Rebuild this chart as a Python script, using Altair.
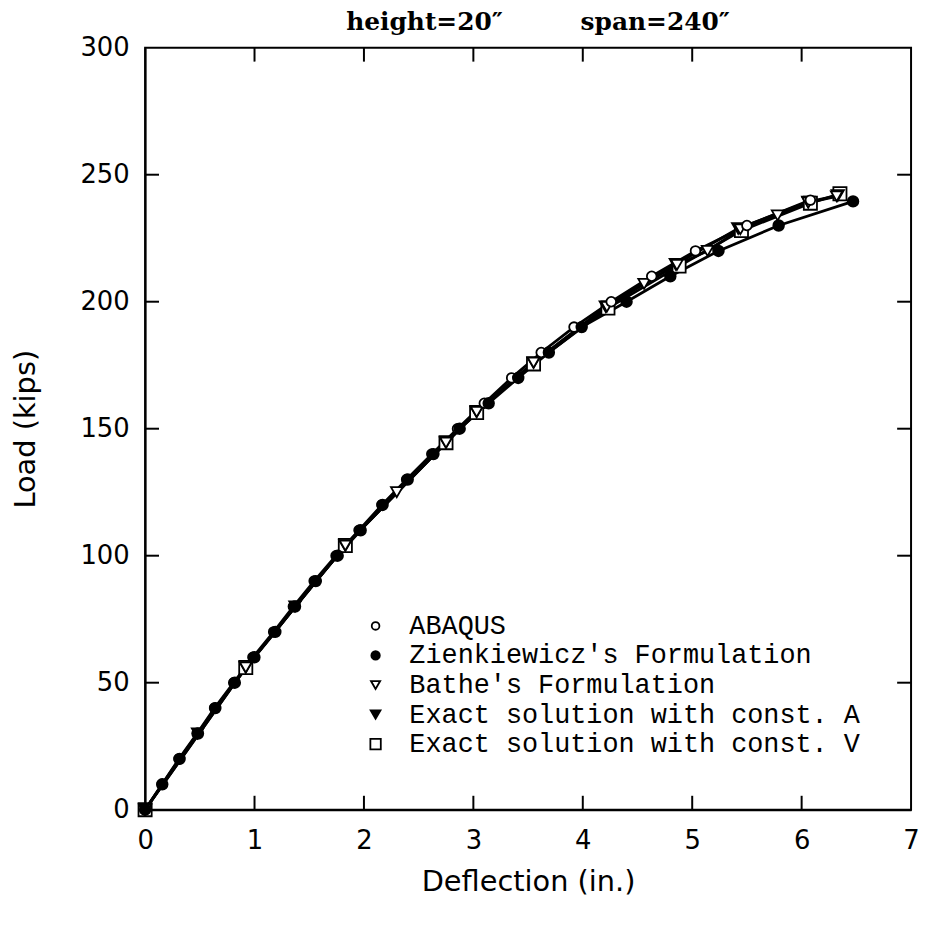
import altair as alt
import pandas as pd

# ---- data ----
series_names = ["ABAQUS", "Zienkiewicz's Formulation", "Bathe's Formulation",
                "Exact solution with const. A", "Exact solution with const. V"]
series_shapes = ["circle", "circle", "triangle-down", "triangle-down", "square"]
series_fills = ["white", "black", "white", "black", "white"]

abaqus_x = [0, 0.155, 0.31, 0.475, 0.635, 0.81, 0.985, 1.175, 1.355, 1.545, 1.745, 1.955,
            2.165, 2.39, 2.62, 2.855, 3.10, 3.35, 3.62, 3.92, 4.26, 4.63, 5.03, 5.50, 6.08]
abaqus_y = [0, 10, 20, 30, 40, 50, 60, 70, 80, 90, 100, 110, 120, 130, 140, 150, 160, 170,
            180, 190, 200, 210, 220, 230, 240]

zien_x = [0, 0.157, 0.315, 0.483, 0.642, 0.82, 0.999, 1.19, 1.37, 1.56, 1.76, 1.97, 2.17,
          2.40, 2.635, 2.875, 3.14, 3.41, 3.69, 3.99, 4.40, 4.80, 5.24, 5.79, 6.47]
zien_y = [0, 10, 20, 30, 40, 50, 60, 70, 80, 90, 100, 110, 120, 130, 140, 150, 160, 170,
          180, 190, 200, 210, 220, 230, 239.5]

bathe_x = [0, 0.48, 0.92, 1.37, 1.83, 2.30, 2.75, 3.03, 3.55, 4.22, 4.56, 4.86, 5.14, 5.44,
           5.78, 6.06, 6.32]
bathe_y = [0, 30, 56, 80, 104, 125, 144.5, 156.6, 176, 198, 207, 214.5, 220, 228.5, 234,
           239, 241.5]

exactA_x = [0, 0.92, 1.83, 2.75, 3.03, 3.55, 4.21, 4.85, 5.42, 6.06, 6.33]
exactA_y = [0, 56, 104, 144.5, 156.6, 176, 198, 214.7, 228.8, 239.3, 241.8]

exactV_x = [0, 0.92, 1.83, 2.75, 3.03, 3.55, 4.23, 4.88, 5.45, 6.08, 6.35]
exactV_y = [0, 56, 104, 144.5, 156.4, 175.5, 197.5, 214, 228, 238.8, 242.5]

x_ticks = [0, 1, 2, 3, 4, 5, 6, 7]
y_ticks = [0, 50, 100, 150, 200, 250, 300]
x_inner_ticks = [1, 2, 3, 4, 5, 6]
y_inner_ticks = [50, 100, 150, 200, 250]

# ---- build table (drawing order: exact, Bathe, ABAQUS, Zienkiewicz on top) ----
rows = []
for name, xs, ys in [
    (series_names[4], exactV_x, exactV_y),
    (series_names[3], exactA_x, exactA_y),
    (series_names[2], bathe_x, bathe_y),
    (series_names[0], abaqus_x, abaqus_y),
    (series_names[1], zien_x, zien_y),
]:
    for i, (a, b) in enumerate(zip(xs, ys)):
        rows.append({"series": name, "defl": a, "load": b, "order": i})
df = pd.DataFrame(rows)
legend_df = pd.DataFrame({"series": series_names, "idx": list(range(len(series_names)))})

W, H = 771, 767
xscale = alt.Scale(domain=[0, 7], nice=False, zero=False)
yscale = alt.Scale(domain=[0, 300], nice=False, zero=False)
shape_scale = alt.Scale(domain=series_names, range=series_shapes)
fill_scale = alt.Scale(domain=series_names, range=series_fills)

lines = alt.Chart(df).mark_line(color="black", strokeWidth=2.8).encode(
    x=alt.X("defl:Q", scale=xscale,
            axis=alt.Axis(title="Deflection (in.)", values=x_ticks, format="d",
                          tickSize=0, labelPadding=18, titlePadding=14, labelFlush=False,
                          labelFontSize=26, titleFontSize=29, labelFont="DejaVu Sans",
                          titleFont="DejaVu Sans", titleFontWeight="normal",
                          domainColor="black", domainWidth=2, grid=False,
                          labelColor="black", titleColor="black")),
    y=alt.Y("load:Q", scale=yscale,
            axis=alt.Axis(title="Load (kips)", values=y_ticks, format="d",
                          tickSize=0, labelPadding=16, titlePadding=40, labelFlush=False,
                          labelFontSize=26, titleFontSize=29, labelFont="DejaVu Sans",
                          titleFont="DejaVu Sans", titleFontWeight="normal",
                          domainColor="black", domainWidth=2, grid=False,
                          labelColor="black", titleColor="black")),
    detail="series:N",
    order="order:Q",
)

points = alt.Chart(df).mark_point(filled=True, stroke="black", strokeWidth=1.8,
                                  opacity=1).encode(
    x=alt.X("defl:Q", scale=xscale),
    y=alt.Y("load:Q", scale=yscale, axis=None),
    shape=alt.Shape("series:N", scale=shape_scale, legend=None),
    fill=alt.Fill("series:N", scale=fill_scale, legend=None),
    size=alt.Size("series:N",
                  scale=alt.Scale(domain=series_names, range=[95, 175, 35, 35, 24]),
                  legend=None),
    order="order:Q",
)

# legend drawn inside the plot (symbols + labels)
leg_y = alt.Y("idx:Q", scale=alt.Scale(domain=[0, 4], range=[582, 701]), axis=None)
legend_symbols = alt.Chart(legend_df).mark_point(filled=True, stroke="black",
                                                 strokeWidth=1.8, opacity=1).encode(
    x=alt.value(232),
    y=leg_y,
    shape=alt.Shape("series:N", scale=shape_scale, legend=None),
    fill=alt.Fill("series:N", scale=fill_scale, legend=None),
    size=alt.Size("series:N",
                  scale=alt.Scale(domain=series_names, range=[60, 110, 30, 30, 22]),
                  legend=None),
)
legend_text = alt.Chart(legend_df).mark_text(
    align="left", baseline="middle", font="Liberation Mono", fontSize=27,
    color="black").encode(
    x=alt.value(266),
    y=leg_y,
    text="series:N",
)

# inward tick marks on all four sides
xt = pd.DataFrame({"v": x_inner_ticks})
yt = pd.DataFrame({"v": y_inner_ticks})
tick_len = 14
bottom_ticks = alt.Chart(xt).mark_rule(color="black", strokeWidth=2).encode(
    x=alt.X("v:Q", scale=xscale), y=alt.value(H), y2=alt.value(H - tick_len))
top_ticks = alt.Chart(xt).mark_rule(color="black", strokeWidth=2).encode(
    x=alt.X("v:Q", scale=xscale), y=alt.value(0), y2=alt.value(tick_len))
left_ticks = alt.Chart(yt).mark_rule(color="black", strokeWidth=2).encode(
    y=alt.Y("v:Q", scale=yscale, axis=None), x=alt.value(0), x2=alt.value(tick_len))
right_ticks = alt.Chart(yt).mark_rule(color="black", strokeWidth=2).encode(
    y=alt.Y("v:Q", scale=yscale, axis=None), x=alt.value(W), x2=alt.value(W - tick_len))

sp = "\u00a0" * 9
chart = alt.layer(
    lines, bottom_ticks, top_ticks, left_ticks, right_ticks, points,
    legend_symbols, legend_text
).resolve_scale(y="independent", size="independent").properties(
    width=W, height=H,
    background="white",
    title=alt.TitleParams(text="height=20\u2033" + sp + "span=240\u2033",
                          font="DejaVu Serif", fontWeight="bold", fontSize=25,
                          color="black", anchor="middle", dx=10, offset=0),
    autosize=alt.AutoSizeParams(type="none"),
    padding={"left": 138, "top": 37, "right": 8, "bottom": 100},
).configure_view(stroke="black", strokeWidth=2)

chart.save("out.html", embed_options={"renderer": "svg", "actions": False})
